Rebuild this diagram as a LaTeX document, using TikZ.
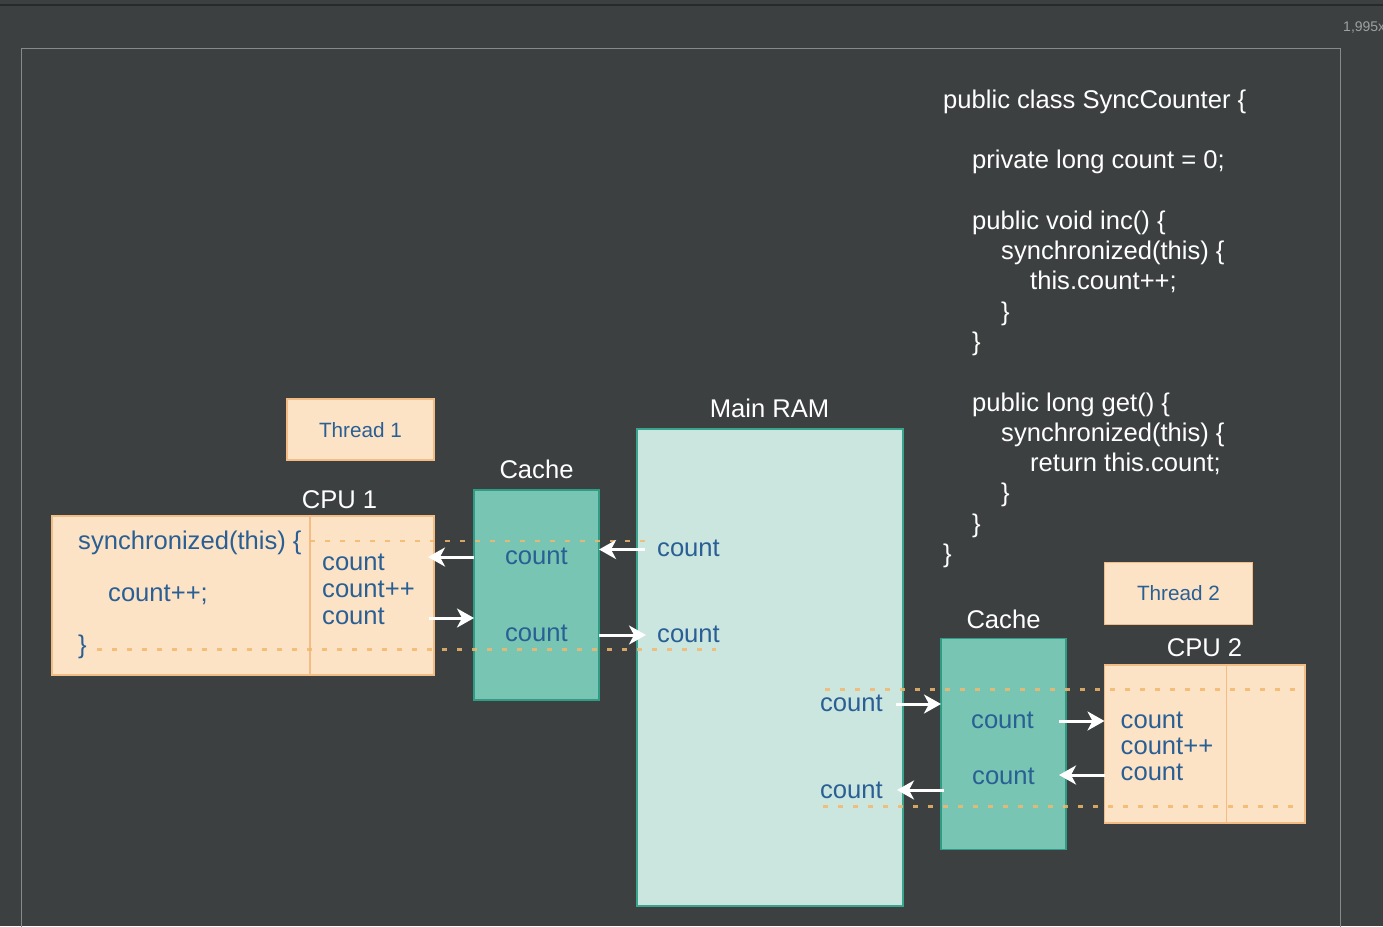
\documentclass[tikz,border=0pt]{standalone}
\usepackage{fontspec}
\setmainfont{Liberation Sans}
\usetikzlibrary{arrows.meta}
\definecolor{bg}{HTML}{3C4041}
\definecolor{framec}{HTML}{858A8B}
\definecolor{peach}{HTML}{FDE3C6}
\definecolor{peachb}{HTML}{F2BC84}
\definecolor{bluet}{HTML}{295F94}
\definecolor{cachef}{HTML}{77C5B2}
\definecolor{cacheb}{HTML}{2F9C86}
\definecolor{ramf}{HTML}{CBE6DF}
\definecolor{ramb}{HTML}{3AA58F}
\definecolor{dotc}{HTML}{F3B86C}
\tikzset{
  bigfont/.style={font=\fontsize{25.6}{30}\selectfont},
  code/.style={bigfont, text=white, anchor=base west, inner sep=0pt},
  lbl/.style={bigfont, text=white, anchor=base, inner sep=0pt},
  btxt/.style={bigfont, text=bluet, anchor=base west, inner sep=0pt},
  btxtc/.style={bigfont, text=bluet, anchor=base, inner sep=0pt},
  peachbox/.style={draw=peachb, fill=peach, line width=1.5pt, anchor=north west, inner sep=0pt, outer sep=0pt},
  threadbox/.style={peachbox, font=\fontsize{20.7}{24}\selectfont, text=bluet},
  cachebox/.style={draw=cacheb, fill=cachef, line width=1.5pt, anchor=north west, inner sep=0pt, outer sep=0pt},
  rambox/.style={draw=ramb, fill=ramf, line width=1.5pt, anchor=north west, inner sep=0pt, outer sep=0pt},
  arr/.style={draw=white, line width=3pt, -{Stealth[length=17pt,width=19pt,inset=5pt]}},
  dotl/.style={draw=dotc, line width=2.5pt, dash pattern=on 5pt off 10pt, opacity=0.85},
  divl/.style={draw=peachb, line width=1.5pt}
}
\begin{document}
\begin{tikzpicture}[x=1pt,y=-1pt]
\useasboundingbox (0,0) rectangle (1383,926);
\fill[bg] (0,0) rectangle (1383,926);
\draw[black!35!bg, line width=1.5pt] (0,5) -- (1383,5);
\draw[framec, line width=1pt] (21,930) -- (21,48) -- (1340,48) -- (1340,930);
\node[anchor=base west, inner sep=0pt, text=framec!80!white, font=\fontsize{14}{16}\selectfont] (zoomlbl) at (1343,31) {1,995x};

% code
\node[code] (l1) at (943,108) {public class SyncCounter \{};
\node[code] (l2) at (972,168.6) {private long count = 0;};
\node[code] (l3) at (972,229.2) {public void inc() \{};
\node[code] (l4) at (1001,259.5) {synchronized(this) \{};
\node[code] (l5) at (1030,289.8) {this.count++;};
\node[code] (l6) at (1001,320.1) {\}};
\node[code] (l7) at (972,350.4) {\}};
\node[code] (l8) at (972,411) {public long get() \{};
\node[code] (l9) at (1001,441.3) {synchronized(this) \{};
\node[code] (l10) at (1030,471.6) {return this.count;};
\node[code] (l11) at (1001,501.9) {\}};
\node[code] (l12) at (972,532.2) {\}};
\node[code] (l13) at (943,562.5) {\}};

% boxes
\node[threadbox, minimum width=147pt, minimum height=61pt] (t1) at (287,399) {};
\node[text=bluet, font=\fontsize{20.7}{24}\selectfont, anchor=base, inner sep=0pt] (t1txt) at (360.5,437) {Thread 1};
\node[peachbox, minimum width=382pt, minimum height=159pt] (cpu1) at (52,516) {};
\draw[divl] (310,516) -- (310,675);
\node[cachebox, minimum width=125pt, minimum height=210pt] (cache1) at (474,490) {};
\node[rambox, minimum width=266pt, minimum height=477pt] (ram) at (637,429) {};
\node[cachebox, minimum width=125pt, minimum height=211pt] (cache2) at (941,638.5) {};
\node[threadbox, minimum width=148pt, minimum height=62pt] (t2) at (1104.5,562.3) {};
\node[text=bluet, font=\fontsize{20.7}{24}\selectfont, anchor=base, inner sep=0pt] (t2txt) at (1178.5,600.7) {Thread 2};
\node[peachbox, minimum width=200.5pt, minimum height=158pt] (cpu2) at (1104.5,665.2) {};
\draw[divl] (1226.5,665.2) -- (1226.5,823.2);

% labels
\node[lbl] (cpu1lbl) at (339.5,508) {CPU 1};
\node[lbl] (cache1lbl) at (536.5,478.5) {Cache};
\node[lbl] (ramlbl) at (769.5,417) {Main RAM};
\node[lbl] (cache2lbl) at (1003.5,628) {Cache};
\node[lbl] (cpu2lbl) at (1204.5,656.5) {CPU 2};

% blue texts CPU1
\node[btxt] (s1) at (78,549) {synchronized(this) \{};
\node[btxt] (s2) at (108,601) {count++;};
\node[btxt] (s3) at (78,653) {\}};
\node[btxt] (c1a) at (322,570.5) {count};
\node[btxt] (c1b) at (322,597.5) {count++};
\node[btxt] (c1c) at (322,624) {count};
% cache1
\node[btxtc] (k1a) at (536.5,564) {count};
\node[btxtc] (k1b) at (536.5,641.5) {count};
% RAM
\node[btxt] (r1) at (657,556) {count};
\node[btxt] (r2) at (657,642) {count};
\node[btxt, anchor=base east] (r3) at (883,711.5) {count};
\node[btxt, anchor=base east] (r4) at (883,798) {count};
% cache2
\node[btxtc] (k2a) at (1002.5,728) {count};
\node[btxtc] (k2b) at (1003.5,784) {count};
% CPU2
\node[btxt] (c2a) at (1120.5,728) {count};
\node[btxt] (c2b) at (1120.5,754) {count++};
\node[btxt] (c2c) at (1120.5,780.5) {count};

% dotted lines
\coordinate (d1s) at (310,541);
\coordinate (d1e) at (645,541);
\coordinate (d2s) at (97,649.5);
\coordinate (d2e) at (716,649.5);
\coordinate (d3s) at (825,689.5);
\coordinate (d3e) at (1296,689.5);
\coordinate (d4s) at (823,806.5);
\coordinate (d4e) at (1296,806.5);
\draw[dotl] (d1s) -- (d1e);
\draw[dotl] (d2s) -- (d2e);
\draw[dotl] (d3s) -- (d3e);
\draw[dotl] (d4s) -- (d4e);

% arrows
\coordinate (a1) at (428,557);
\coordinate (a2) at (429,618);
\coordinate (a3) at (645,549.5);
\coordinate (a4) at (646,635);
\coordinate (a5) at (896,704);
\coordinate (a6) at (1059,721);
\coordinate (a7) at (1059,775);
\coordinate (a8) at (944,790);
\coordinate (a9) at (897,790);
\draw[arr] (cache1.west |- a1) -- (a1);
\draw[arr] (a2) -- (cache1.west |- a2);
\draw[arr] (a3) -- (cache1.east |- a3);
\draw[arr] (cache1.east |- a4) -- (a4);
\draw[arr] (a5) -- (cache2.west |- a5);
\draw[arr] (a6) -- (cpu2.west |- a6);
\draw[arr] (cpu2.west |- a7) -- (a7);
\draw[arr] (a8) -- (a9);
\end{tikzpicture}
\end{document}
